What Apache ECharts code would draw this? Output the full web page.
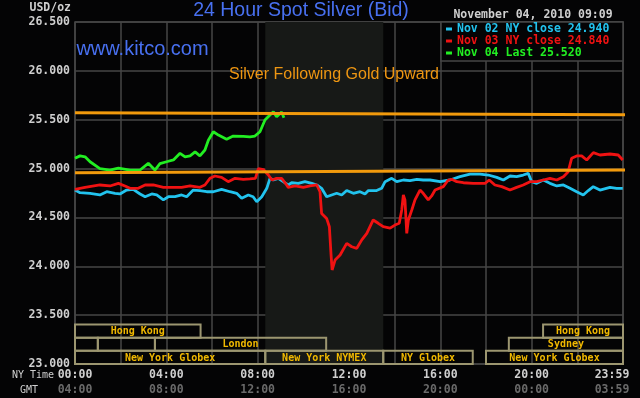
<!DOCTYPE html>
<html>
<head>
<meta charset="utf-8">
<script src="https://cdn.jsdelivr.net/npm/echarts@6/dist/echarts.min.js"></script>
<style>html,body{margin:0;padding:0;background:#040405;}#c{width:640px;height:398px;}</style>
</head>
<body>
<div id="c"></div>
<script>
// ---------- data ----------
const titleText = '24 Hour Spot Silver (Bid)';
const dateText = 'November 04, 2010 09:09';
const noteText = 'Silver Following Gold Upward';
const siteText = 'www.kitco.com';
const nyTicks = ['00:00','04:00','08:00','12:00','16:00','20:00','23:59'];
const gmtTicks = ['04:00','08:00','12:00','16:00','20:00','00:00','03:59'];
const seriesLabels = ['Nov 02 NY close','Nov 03 NY close','Nov 04 Last'];
const closeValues = [24.940, 24.840, 25.520];
const seriesColors = ['#22c3ee','#f01212','#22ee22'];

const nov02 = [[0.00,24.780],[0.22,24.753],[0.66,24.747],[1.09,24.730],[1.39,24.763],[1.75,24.747],[1.97,24.740],[2.26,24.780],[2.55,24.788],[2.85,24.740],[3.07,24.712],[3.36,24.740],[3.58,24.730],[3.87,24.680],[4.09,24.712],[4.38,24.712],[4.67,24.730],[4.89,24.712],[5.18,24.780],[5.47,24.775],[5.77,24.763],[6.06,24.763],[6.42,24.788],[6.79,24.763],[7.08,24.747],[7.30,24.696],[7.59,24.730],[7.80,24.712],[7.96,24.660],[8.18,24.712],[8.40,24.798],[8.54,24.900],[8.69,24.883],[8.90,24.900],[9.12,24.866],[9.34,24.832],[9.49,24.855],[9.78,24.849],[10.07,24.866],[10.37,24.849],[10.59,24.832],[10.80,24.798],[11.02,24.712],[11.24,24.730],[11.46,24.747],[11.68,24.730],[11.90,24.775],[12.19,24.747],[12.48,24.763],[12.70,24.740],[12.85,24.775],[13.21,24.775],[13.43,24.798],[13.58,24.866],[13.87,24.900],[14.09,24.866],[14.38,24.883],[14.67,24.876],[14.97,24.890],[15.25,24.883],[15.55,24.883],[15.99,24.866],[16.42,24.883],[16.86,24.917],[17.30,24.944],[17.74,24.944],[18.10,24.934],[18.47,24.910],[18.76,24.883],[19.05,24.924],[19.34,24.917],[19.63,24.934],[19.85,24.951],[20.00,24.866],[20.22,24.849],[20.51,24.883],[20.80,24.849],[21.10,24.822],[21.39,24.832],[21.68,24.798],[21.97,24.763],[22.26,24.730],[22.48,24.775],[22.70,24.815],[22.99,24.780],[23.43,24.808],[23.72,24.798],[23.99,24.798]];

const nov03 = [[0.00,24.788],[0.44,24.808],[1.09,24.832],[1.53,24.822],[1.90,24.849],[2.19,24.822],[2.41,24.798],[2.77,24.798],[3.07,24.832],[3.43,24.832],[3.87,24.808],[4.31,24.808],[4.67,24.808],[5.04,24.822],[5.47,24.808],[5.69,24.832],[5.91,24.900],[6.13,24.924],[6.42,24.910],[6.71,24.866],[7.01,24.900],[7.37,24.890],[7.66,24.895],[7.90,24.900],[8.03,25.000],[8.25,24.990],[8.47,24.934],[8.62,24.883],[8.83,24.900],[9.05,24.900],[9.20,24.855],[9.34,24.808],[9.64,24.822],[10.00,24.808],[10.29,24.822],[10.59,24.832],[10.73,24.763],[10.80,24.540],[11.02,24.490],[11.14,24.405],[11.21,24.133],[11.26,23.962],[11.39,24.064],[11.61,24.115],[11.90,24.235],[12.12,24.200],[12.34,24.184],[12.56,24.270],[12.78,24.337],[13.06,24.474],[13.28,24.440],[13.50,24.405],[13.80,24.390],[14.01,24.422],[14.20,24.440],[14.31,24.576],[14.38,24.730],[14.45,24.680],[14.53,24.337],[14.60,24.474],[14.75,24.576],[14.89,24.680],[15.11,24.780],[15.25,24.747],[15.47,24.680],[15.62,24.720],[15.77,24.780],[16.13,24.815],[16.35,24.883],[16.50,24.890],[16.72,24.866],[17.01,24.855],[17.44,24.849],[17.96,24.849],[18.14,24.883],[18.39,24.832],[18.69,24.815],[19.05,24.780],[19.34,24.808],[19.63,24.832],[19.93,24.866],[20.22,24.866],[20.51,24.883],[20.80,24.900],[21.10,24.883],[21.39,24.917],[21.60,24.968],[21.75,25.105],[21.97,25.129],[22.19,25.130],[22.41,25.088],[22.70,25.163],[22.99,25.139],[23.43,25.149],[23.79,25.139],[23.99,25.088]];

const nov04 = [[0.00,25.105],[0.22,25.130],[0.44,25.120],[0.66,25.070],[1.09,25.000],[1.53,24.985],[1.90,25.005],[2.41,24.985],[2.85,24.985],[3.21,25.054],[3.50,24.985],[3.72,25.050],[4.01,25.070],[4.31,25.088],[4.60,25.156],[4.82,25.120],[5.04,25.130],[5.26,25.170],[5.47,25.130],[5.69,25.190],[5.84,25.290],[6.06,25.377],[6.28,25.343],[6.64,25.300],[6.93,25.333],[7.37,25.330],[7.66,25.325],[7.88,25.333],[8.10,25.377],[8.32,25.497],[8.54,25.548],[8.69,25.582],[8.83,25.530],[9.05,25.580],[9.15,25.520]];

const upperTrend = [[0.0,25.572],[24.15,25.551]];
const lowerTrend = [[0.0,24.958],[24.3,24.985]];

const nymexShade = [8.333, 13.5];

const sessionNames = ['Hong Kong','','','London','New York Globex','New York NYMEX','NY Globex','New York Globex','Sydney','Hong Kong'];
const sessionStart = [0, 0, 1, 3.5, 0, 8.333, 13.5, 18, 19, 20.5];
const sessionEnd   = [5.5, 1, 3.5, 11, 8.333, 13.5, 17.42, 24, 24, 24];
const sessionRow   = [2, 1, 1, 1, 0, 0, 0, 0, 1, 2];

// ---------- chart ----------
const chart = echarts.init(document.getElementById('c'));
const mono = 'DejaVu Sans Mono';

const lineSeries = [nov02, nov03, nov04].map((d, i) => ({
  type: 'line',
  name: seriesLabels[i] + ' ' + closeValues[i].toFixed(3),
  data: d,
  showSymbol: false,
  color: seriesColors[i],
  lineStyle: { width: 2.8, color: seriesColors[i] },
  z: 2
}));

const sessionData = sessionNames.map((n, i) => [sessionStart[i], sessionEnd[i], sessionRow[i], n]);

chart.setOption({
  backgroundColor: '#040405',
  animation: false,
  grid: { left: 75, top: 22, right: 17, bottom: 34, show: true, containLabel: false, outerBoundsMode: 'none',
          borderColor: '#464646', borderWidth: 1.5, backgroundColor: 'transparent' },
  xAxis: [{
    type: 'value', min: 0, max: 24, interval: 2, z: 1,
    axisLine: { show: false }, axisTick: { show: false },
    splitLine: { show: true, lineStyle: { color: '#464646', width: 1.5 } },
    axisLabel: {
      margin: 4, showMaxLabel: true, showMinLabel: true,
      formatter: function (v) {
        if (v % 4 !== 0) return '';
        const i = v / 4;
        if (i === nyTicks.length - 1) return '{n2|' + nyTicks[i] + '}\n{g2|' + gmtTicks[i] + '}';
        return '{n|' + nyTicks[i] + '}\n{g|' + gmtTicks[i] + '}';
      },
      rich: {
        n: { color: '#cfcfcf', fontFamily: mono, fontSize: 11.5, fontWeight: 'bold', lineHeight: 15 },
        g: { color: '#6a6a6a', fontFamily: mono, fontSize: 11.5, fontWeight: 'bold', lineHeight: 15 },
        n2: { color: '#cfcfcf', fontFamily: mono, fontSize: 11.5, fontWeight: 'bold', lineHeight: 15, padding: [0, 22, 0, 0] },
        g2: { color: '#6a6a6a', fontFamily: mono, fontSize: 11.5, fontWeight: 'bold', lineHeight: 15, padding: [0, 22, 0, 0] }
      }
    }
  }],
  yAxis: [{
    type: 'value', min: 23, max: 26.5, interval: 0.5, z: 1,
    axisLine: { show: false }, axisTick: { show: false },
    splitLine: { show: true, lineStyle: { color: '#464646', width: 1.5 } },
    axisLabel: { margin: 5, color: '#cfcfcf', fontFamily: mono, fontSize: 11.5, fontWeight: 'bold', formatter: v => v.toFixed(3) }
  }, {
    type: 'value', min: 0, max: 26, show: false
  }],
  legend: {
    orient: 'vertical', left: 446, top: 23, itemGap: 0, itemWidth: 6, itemHeight: 3, icon: 'rect', padding: 0,
    selectedMode: false, z: 6,
    data: lineSeries.map((s, i) => ({ name: s.name, textStyle: { color: seriesColors[i] } })),
    textStyle: { fontFamily: mono, fontSize: 11.5, fontWeight: 'bold', lineHeight: 12 }
  },
  graphic: [
    { type: 'rect', z: 5, shape: { x: 441, y: 22, width: 182, height: 39 }, style: { fill: '#040405', stroke: '#464646', lineWidth: 1.5 } },
    { type: 'text', z: 6, x: 301, y: 11, style: { text: titleText, fill: '#4870f0', font: '19.5px "Liberation Sans", Arial, sans-serif', textAlign: 'center', textVerticalAlign: 'middle' } },
    { type: 'text', z: 6, x: 533, y: 15, style: { text: dateText, fill: '#cfcfcf', font: 'bold 11.5px "DejaVu Sans Mono", monospace', textAlign: 'center', textVerticalAlign: 'middle' } },
    { type: 'text', z: 6, x: 71, y: 8, style: { text: 'USD/oz', fill: '#cfcfcf', font: 'bold 11.5px "DejaVu Sans Mono", monospace', textAlign: 'right', textVerticalAlign: 'middle' } },
    { type: 'text', z: 6, x: 142.5, y: 49.5, style: { text: siteText, fill: '#4870f0', font: '20px "Liberation Sans", Arial, sans-serif', textAlign: 'center', textVerticalAlign: 'middle' } },
    { type: 'text', z: 6, x: 334, y: 74.5, style: { text: noteText, fill: '#ee9612', font: '16px "Liberation Sans", Arial, sans-serif', textAlign: 'center', textVerticalAlign: 'middle' } },
    { type: 'text', z: 6, x: 12, y: 375, style: { text: 'NY Time', fill: '#cfcfcf', font: '10px "DejaVu Sans Mono", monospace', textAlign: 'left', textVerticalAlign: 'middle' } },
    { type: 'text', z: 6, x: 20, y: 390, style: { text: 'GMT', fill: '#cfcfcf', font: '10px "DejaVu Sans Mono", monospace', textAlign: 'left', textVerticalAlign: 'middle' } }
  ],
  series: [
    {
      type: 'line', name: 'NYMEX', data: [], z: 0, silent: true,
      markArea: {
        silent: true,
        itemStyle: { color: '#171917' },
        data: [[{ xAxis: nymexShade[0] }, { xAxis: nymexShade[1] }]]
      }
    },
    {
      type: 'custom', name: 'sessions', xAxisIndex: 0, yAxisIndex: 1, z: 3, silent: true,
      data: sessionData,
      renderItem: function (params, api) {
        const p0 = api.coord([api.value(0), api.value(2) + 1]);
        const p1 = api.coord([api.value(1), api.value(2)]);
        const label = sessionNames[params.dataIndex];
        return {
          type: 'group',
          children: [
            { type: 'rect', shape: { x: p0[0], y: p0[1], width: p1[0] - p0[0], height: p1[1] - p0[1] },
              style: { fill: 'transparent', stroke: '#9c9670', lineWidth: 2 } },
            { type: 'text', x: (p0[0] + p1[0]) / 2, y: (p0[1] + p1[1]) / 2 + 0.5,
              style: { text: label, fill: '#f0b800', font: 'bold 10px "DejaVu Sans Mono", monospace', textAlign: 'center', textVerticalAlign: 'middle' } }
          ]
        };
      }
    },
    ...lineSeries,
    { type: 'line', name: 'trendUpper', data: upperTrend, showSymbol: false, clip: false, z: 4, lineStyle: { width: 3, color: '#f29a0c' } },
    { type: 'line', name: 'trendLower', data: lowerTrend, showSymbol: false, clip: false, z: 4, lineStyle: { width: 3, color: '#f29a0c' } }
  ]
});
</script>
</body>
</html>
